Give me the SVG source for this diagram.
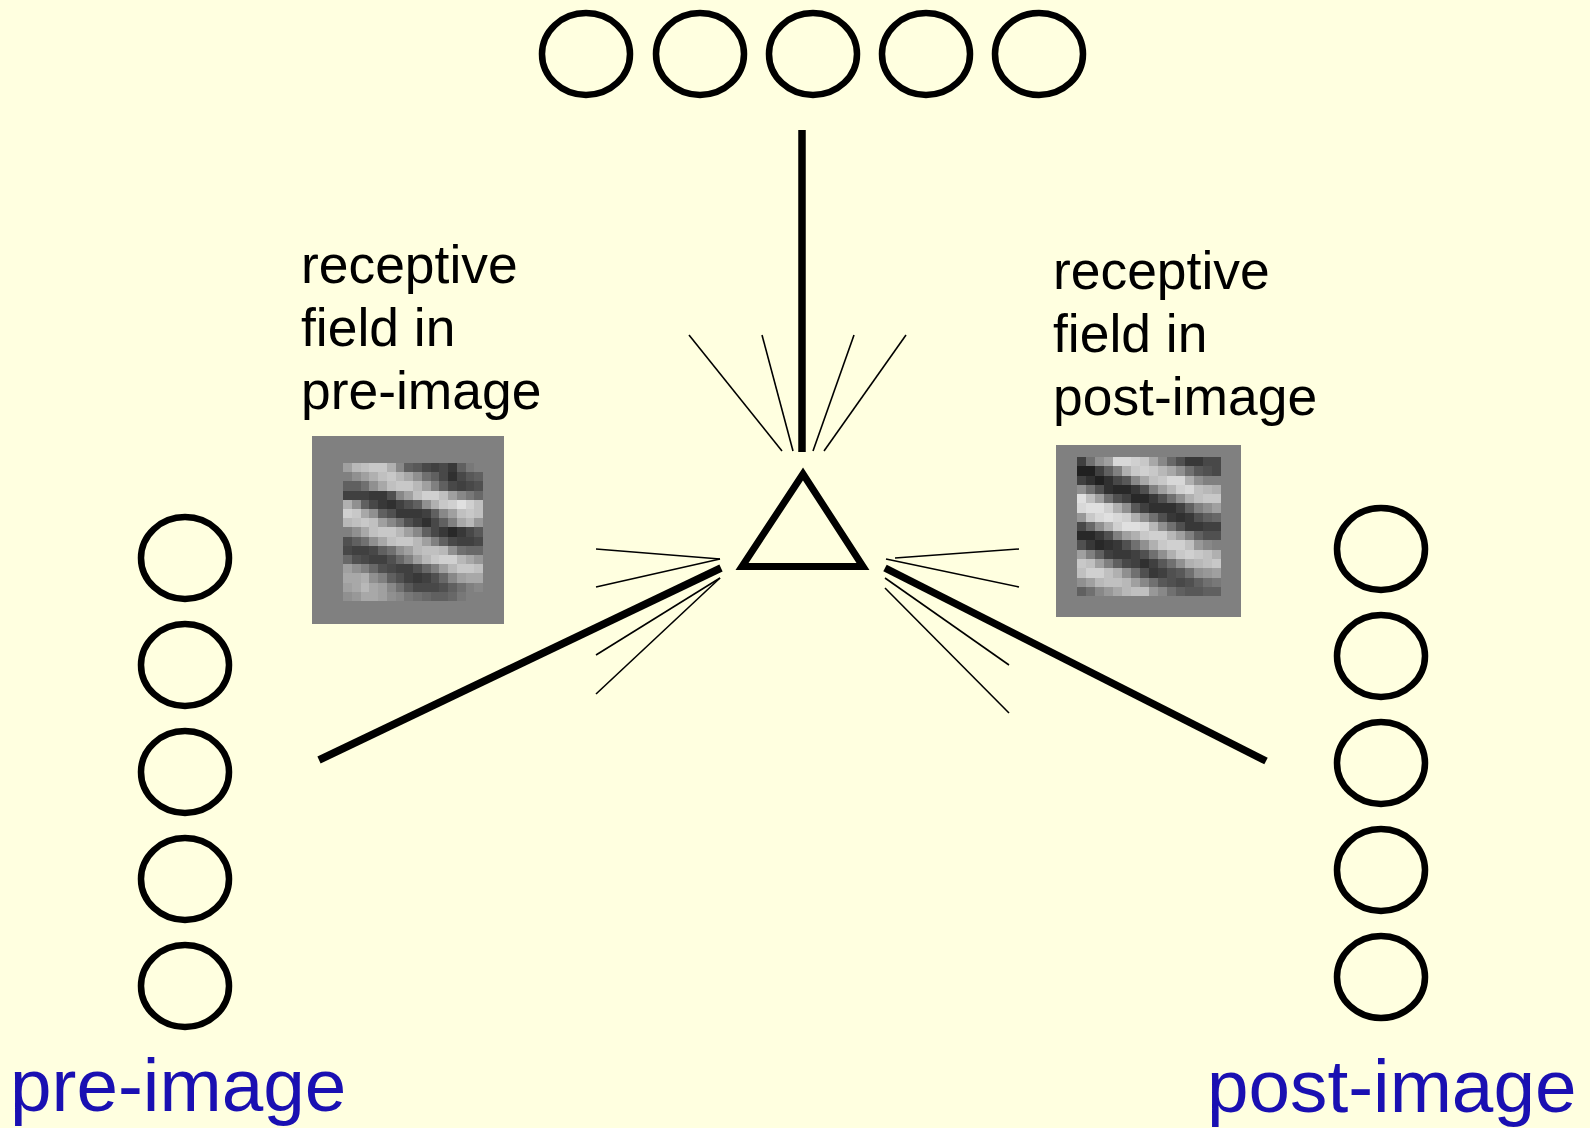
<svg xmlns="http://www.w3.org/2000/svg" width="1590" height="1128" viewBox="0 0 1590 1128">
  <style>
    .unit { fill: none; stroke: #000; stroke-width: 6.5; }
    .thick { stroke: #000; stroke-width: 7.5; fill: none; }
    .thin { stroke: #000; stroke-width: 1.6; fill: none; }
    .lbl { font-family: "Liberation Sans", Arial, sans-serif; font-size: 53.4px; fill: #000; }
    .big { font-family: "Liberation Sans", Arial, sans-serif; font-size: 74.7px; fill: #1a10b2; }
    .px rect { width: 1.04px; height: 1.04px; }
    .px { shape-rendering: crispEdges; }
  </style>

  <rect width="1590" height="1128" fill="#ffffe0"/>

  <!-- connectors -->
  <g id="connectors" stroke-linecap="butt">
    <!-- input from the top row -->
    <line class="thick" x1="802" y1="130" x2="802" y2="452" stroke-width="8"/>
    <line class="thin" x1="689" y1="335" x2="782" y2="451"/>
    <line class="thin" x1="762" y1="335" x2="793" y2="451"/>
    <line class="thin" x1="854" y1="335" x2="813" y2="451"/>
    <line class="thin" x1="906" y1="335" x2="824" y2="451"/>
    <!-- input from the left column -->
    <line class="thick" x1="319" y1="760" x2="721" y2="568"/>
    <line class="thin" x1="596" y1="549" x2="720" y2="559"/>
    <line class="thin" x1="596" y1="587" x2="720" y2="559"/>
    <line class="thin" x1="596" y1="655" x2="720" y2="578"/>
    <line class="thin" x1="596" y1="694" x2="720" y2="578"/>
    <!-- input from the right column -->
    <line class="thick" x1="885" y1="568" x2="1266" y2="761"/>
    <line class="thin" x1="1019" y1="549" x2="895" y2="558"/>
    <line class="thin" x1="1019" y1="587" x2="886" y2="559"/>
    <line class="thin" x1="1009" y1="665" x2="885" y2="578"/>
    <line class="thin" x1="1009" y1="713" x2="885" y2="588"/>
  </g>

  <!-- central neuron -->
  <g id="neuron">
    <polygon points="742,566.5 863,566.5 803,474" fill="none" stroke="#000" stroke-width="7" stroke-linejoin="miter"/>
  </g>

  <!-- top layer -->
  <g id="top-layer">
    <ellipse id="t1" class="unit" cx="586" cy="54" rx="44" ry="41"/>
    <ellipse id="t2" class="unit" cx="700" cy="54" rx="44" ry="41"/>
    <ellipse id="t3" class="unit" cx="813" cy="54" rx="44" ry="41"/>
    <ellipse id="t4" class="unit" cx="926" cy="54" rx="44" ry="41"/>
    <ellipse id="t5" class="unit" cx="1039" cy="54" rx="44" ry="41"/>
  </g>

  <!-- pre-image column -->
  <g id="pre-layer">
    <ellipse id="p1" class="unit" cx="185" cy="558" rx="44" ry="41"/>
    <ellipse id="p2" class="unit" cx="185" cy="665" rx="44" ry="41"/>
    <ellipse id="p3" class="unit" cx="185" cy="772" rx="44" ry="41"/>
    <ellipse id="p4" class="unit" cx="185" cy="879" rx="44" ry="41"/>
    <ellipse id="p5" class="unit" cx="185" cy="986" rx="44" ry="41"/>
  </g>

  <!-- post-image column -->
  <g id="post-layer">
    <ellipse id="q1" class="unit" cx="1381" cy="549" rx="44" ry="41"/>
    <ellipse id="q2" class="unit" cx="1381" cy="656" rx="44" ry="41"/>
    <ellipse id="q3" class="unit" cx="1381" cy="763" rx="44" ry="41"/>
    <ellipse id="q4" class="unit" cx="1381" cy="870" rx="44" ry="41"/>
    <ellipse id="q5" class="unit" cx="1381" cy="977" rx="44" ry="41"/>
  </g>

  <!-- receptive field in pre-image -->
  <g id="rf-pre">
    <text class="lbl" x="301" y="283">receptive</text>
    <text class="lbl" x="301" y="346">field in</text>
    <text class="lbl" x="301" y="409">pre-image</text>
    <rect x="312" y="436" width="192" height="188" fill="#808080"/>
    <g class="px" transform="translate(343,463) scale(8.75,9.2)">
      <g><rect x="0" y="0" fill="#a0a0a0"/><rect x="1" y="0" fill="#b8b8b8"/><rect x="2" y="0" fill="#c0c0c0"/><rect x="3" y="0" fill="#c8c8c8"/><rect x="4" y="0" fill="#c8c8c8"/><rect x="5" y="0" fill="#b0b0b0"/><rect x="6" y="0" fill="#888888"/><rect x="7" y="0" fill="#606060"/><rect x="8" y="0" fill="#585858"/><rect x="9" y="0" fill="#484848"/><rect x="10" y="0" fill="#404040"/><rect x="11" y="0" fill="#484848"/><rect x="12" y="0" fill="#383838"/><rect x="13" y="0" fill="#606060"/><rect x="14" y="0" fill="#787878"/><rect x="15" y="0" fill="#808080"/></g>
      <g><rect x="0" y="1" fill="#808080"/><rect x="1" y="1" fill="#909090"/><rect x="2" y="1" fill="#a0a0a0"/><rect x="3" y="1" fill="#b0b0b0"/><rect x="4" y="1" fill="#c0c0c0"/><rect x="5" y="1" fill="#c8c8c8"/><rect x="6" y="1" fill="#b8b8b8"/><rect x="7" y="1" fill="#a8a8a8"/><rect x="8" y="1" fill="#909090"/><rect x="9" y="1" fill="#707070"/><rect x="10" y="1" fill="#606060"/><rect x="11" y="1" fill="#484848"/><rect x="12" y="1" fill="#303030"/><rect x="13" y="1" fill="#484848"/><rect x="14" y="1" fill="#585858"/><rect x="15" y="1" fill="#606060"/></g>
      <g><rect x="0" y="2" fill="#606060"/><rect x="1" y="2" fill="#606060"/><rect x="2" y="2" fill="#707070"/><rect x="3" y="2" fill="#909090"/><rect x="4" y="2" fill="#a8a8a8"/><rect x="5" y="2" fill="#c0c0c0"/><rect x="6" y="2" fill="#c8c8c8"/><rect x="7" y="2" fill="#c8c8c8"/><rect x="8" y="2" fill="#b8b8b8"/><rect x="9" y="2" fill="#a0a0a0"/><rect x="10" y="2" fill="#808080"/><rect x="11" y="2" fill="#606060"/><rect x="12" y="2" fill="#484848"/><rect x="13" y="2" fill="#404040"/><rect x="14" y="2" fill="#484848"/><rect x="15" y="2" fill="#505050"/></g>
      <g><rect x="0" y="3" fill="#404040"/><rect x="1" y="3" fill="#404040"/><rect x="2" y="3" fill="#404040"/><rect x="3" y="3" fill="#383838"/><rect x="4" y="3" fill="#383838"/><rect x="5" y="3" fill="#505050"/><rect x="6" y="3" fill="#888888"/><rect x="7" y="3" fill="#a0a0a0"/><rect x="8" y="3" fill="#c0c0c0"/><rect x="9" y="3" fill="#d0d0d0"/><rect x="10" y="3" fill="#d0d0d0"/><rect x="11" y="3" fill="#c0c0c0"/><rect x="12" y="3" fill="#a0a0a0"/><rect x="13" y="3" fill="#888888"/><rect x="14" y="3" fill="#787878"/><rect x="15" y="3" fill="#686868"/></g>
      <g><rect x="0" y="4" fill="#b0b0b0"/><rect x="1" y="4" fill="#909090"/><rect x="2" y="4" fill="#606060"/><rect x="3" y="4" fill="#484848"/><rect x="4" y="4" fill="#383838"/><rect x="5" y="4" fill="#303030"/><rect x="6" y="4" fill="#404040"/><rect x="7" y="4" fill="#505050"/><rect x="8" y="4" fill="#606060"/><rect x="9" y="4" fill="#909090"/><rect x="10" y="4" fill="#b0b0b0"/><rect x="11" y="4" fill="#c8c8c8"/><rect x="12" y="4" fill="#d0d0d0"/><rect x="13" y="4" fill="#e0e0e0"/><rect x="14" y="4" fill="#d0d0d0"/><rect x="15" y="4" fill="#c0c0c0"/></g>
      <g><rect x="0" y="5" fill="#d0d0d0"/><rect x="1" y="5" fill="#c8c8c8"/><rect x="2" y="5" fill="#a8a8a8"/><rect x="3" y="5" fill="#909090"/><rect x="4" y="5" fill="#606060"/><rect x="5" y="5" fill="#505050"/><rect x="6" y="5" fill="#383838"/><rect x="7" y="5" fill="#383838"/><rect x="8" y="5" fill="#383838"/><rect x="9" y="5" fill="#404040"/><rect x="10" y="5" fill="#606060"/><rect x="11" y="5" fill="#888888"/><rect x="12" y="5" fill="#a0a0a0"/><rect x="13" y="5" fill="#c0c0c0"/><rect x="14" y="5" fill="#c8c8c8"/><rect x="15" y="5" fill="#c0c0c0"/></g>
      <g><rect x="0" y="6" fill="#b8b8b8"/><rect x="1" y="6" fill="#c0c0c0"/><rect x="2" y="6" fill="#c8c8c8"/><rect x="3" y="6" fill="#c0c0c0"/><rect x="4" y="6" fill="#a0a0a0"/><rect x="5" y="6" fill="#888888"/><rect x="6" y="6" fill="#707070"/><rect x="7" y="6" fill="#505050"/><rect x="8" y="6" fill="#404040"/><rect x="9" y="6" fill="#303030"/><rect x="10" y="6" fill="#484848"/><rect x="11" y="6" fill="#606060"/><rect x="12" y="6" fill="#808080"/><rect x="13" y="6" fill="#a8a8a8"/><rect x="14" y="6" fill="#b8b8b8"/><rect x="15" y="6" fill="#989898"/></g>
      <g><rect x="0" y="7" fill="#808080"/><rect x="1" y="7" fill="#909090"/><rect x="2" y="7" fill="#a8a8a8"/><rect x="3" y="7" fill="#c0c0c0"/><rect x="4" y="7" fill="#c8c8c8"/><rect x="5" y="7" fill="#c8c8c8"/><rect x="6" y="7" fill="#b8b8b8"/><rect x="7" y="7" fill="#a0a0a0"/><rect x="8" y="7" fill="#888888"/><rect x="9" y="7" fill="#606060"/><rect x="10" y="7" fill="#484848"/><rect x="11" y="7" fill="#383838"/><rect x="12" y="7" fill="#282828"/><rect x="13" y="7" fill="#383838"/><rect x="14" y="7" fill="#484848"/><rect x="15" y="7" fill="#585858"/></g>
      <g><rect x="0" y="8" fill="#505050"/><rect x="1" y="8" fill="#606060"/><rect x="2" y="8" fill="#707070"/><rect x="3" y="8" fill="#909090"/><rect x="4" y="8" fill="#a8a8a8"/><rect x="5" y="8" fill="#c0c0c0"/><rect x="6" y="8" fill="#c8c8c8"/><rect x="7" y="8" fill="#c8c8c8"/><rect x="8" y="8" fill="#b8b8b8"/><rect x="9" y="8" fill="#a0a0a0"/><rect x="10" y="8" fill="#808080"/><rect x="11" y="8" fill="#606060"/><rect x="12" y="8" fill="#484848"/><rect x="13" y="8" fill="#404040"/><rect x="14" y="8" fill="#404040"/><rect x="15" y="8" fill="#484848"/></g>
      <g><rect x="0" y="9" fill="#484848"/><rect x="1" y="9" fill="#404040"/><rect x="2" y="9" fill="#404040"/><rect x="3" y="9" fill="#484848"/><rect x="4" y="9" fill="#606060"/><rect x="5" y="9" fill="#707070"/><rect x="6" y="9" fill="#909090"/><rect x="7" y="9" fill="#a0a0a0"/><rect x="8" y="9" fill="#b8b8b8"/><rect x="9" y="9" fill="#c0c0c0"/><rect x="10" y="9" fill="#c0c0c0"/><rect x="11" y="9" fill="#b8b8b8"/><rect x="12" y="9" fill="#909090"/><rect x="13" y="9" fill="#707070"/><rect x="14" y="9" fill="#686868"/><rect x="15" y="9" fill="#686868"/></g>
      <g><rect x="0" y="10" fill="#686868"/><rect x="1" y="10" fill="#505050"/><rect x="2" y="10" fill="#484848"/><rect x="3" y="10" fill="#404040"/><rect x="4" y="10" fill="#404040"/><rect x="5" y="10" fill="#505050"/><rect x="6" y="10" fill="#686868"/><rect x="7" y="10" fill="#808080"/><rect x="8" y="10" fill="#a0a0a0"/><rect x="9" y="10" fill="#b8b8b8"/><rect x="10" y="10" fill="#c8c8c8"/><rect x="11" y="10" fill="#d0d0d0"/><rect x="12" y="10" fill="#d0d0d0"/><rect x="13" y="10" fill="#b8b8b8"/><rect x="14" y="10" fill="#a8a8a8"/><rect x="15" y="10" fill="#989898"/></g>
      <g><rect x="0" y="11" fill="#a0a0a0"/><rect x="1" y="11" fill="#909090"/><rect x="2" y="11" fill="#808080"/><rect x="3" y="11" fill="#686868"/><rect x="4" y="11" fill="#505050"/><rect x="5" y="11" fill="#484848"/><rect x="6" y="11" fill="#404040"/><rect x="7" y="11" fill="#404040"/><rect x="8" y="11" fill="#505050"/><rect x="9" y="11" fill="#686868"/><rect x="10" y="11" fill="#808080"/><rect x="11" y="11" fill="#a0a0a0"/><rect x="12" y="11" fill="#b8b8b8"/><rect x="13" y="11" fill="#c8c8c8"/><rect x="14" y="11" fill="#c8c8c8"/><rect x="15" y="11" fill="#c0c0c0"/></g>
      <g><rect x="0" y="12" fill="#a8a8a8"/><rect x="1" y="12" fill="#a8a8a8"/><rect x="2" y="12" fill="#b0b0b0"/><rect x="3" y="12" fill="#909090"/><rect x="4" y="12" fill="#808080"/><rect x="5" y="12" fill="#606060"/><rect x="6" y="12" fill="#505050"/><rect x="7" y="12" fill="#404040"/><rect x="8" y="12" fill="#383838"/><rect x="9" y="12" fill="#404040"/><rect x="10" y="12" fill="#505050"/><rect x="11" y="12" fill="#686868"/><rect x="12" y="12" fill="#888888"/><rect x="13" y="12" fill="#a0a0a0"/><rect x="14" y="12" fill="#a8a8a8"/><rect x="15" y="12" fill="#a8a8a8"/></g>
      <g><rect x="0" y="13" fill="#a0a0a0"/><rect x="1" y="13" fill="#a8a8a8"/><rect x="2" y="13" fill="#b8b8b8"/><rect x="3" y="13" fill="#a8a8a8"/><rect x="4" y="13" fill="#a0a0a0"/><rect x="5" y="13" fill="#888888"/><rect x="6" y="13" fill="#707070"/><rect x="7" y="13" fill="#585858"/><rect x="8" y="13" fill="#484848"/><rect x="9" y="13" fill="#484848"/><rect x="10" y="13" fill="#484848"/><rect x="11" y="13" fill="#505050"/><rect x="12" y="13" fill="#606060"/><rect x="13" y="13" fill="#707070"/><rect x="14" y="13" fill="#808080"/><rect x="15" y="13" fill="#888888"/></g>
      <g><rect x="0" y="14" fill="#909090"/><rect x="1" y="14" fill="#989898"/><rect x="2" y="14" fill="#a8a8a8"/><rect x="3" y="14" fill="#a8a8a8"/><rect x="4" y="14" fill="#a0a0a0"/><rect x="5" y="14" fill="#909090"/><rect x="6" y="14" fill="#888888"/><rect x="7" y="14" fill="#787878"/><rect x="8" y="14" fill="#707070"/><rect x="9" y="14" fill="#686868"/><rect x="10" y="14" fill="#606060"/><rect x="11" y="14" fill="#606060"/><rect x="12" y="14" fill="#686868"/><rect x="13" y="14" fill="#787878"/><rect x="14" y="14" fill="#808080"/><rect x="15" y="14" fill="#808080"/></g>
    </g>
  </g>

  <!-- receptive field in post-image -->
  <g id="rf-post">
    <text class="lbl" x="1053" y="289">receptive</text>
    <text class="lbl" x="1053" y="352">field in</text>
    <text class="lbl" x="1053" y="415">post-image</text>
    <rect x="1056" y="445" width="185" height="172" fill="#808080"/>
    <g class="px" transform="translate(1077,457) scale(9,9.27)">
      <g><rect x="0" y="0" fill="#404040"/><rect x="1" y="0" fill="#707070"/><rect x="2" y="0" fill="#909090"/><rect x="3" y="0" fill="#a0a0a0"/><rect x="4" y="0" fill="#d8d8d8"/><rect x="5" y="0" fill="#d8d8d8"/><rect x="6" y="0" fill="#d0d0d0"/><rect x="7" y="0" fill="#c8c8c8"/><rect x="8" y="0" fill="#a8a8a8"/><rect x="9" y="0" fill="#888888"/><rect x="10" y="0" fill="#686868"/><rect x="11" y="0" fill="#505050"/><rect x="12" y="0" fill="#383838"/><rect x="13" y="0" fill="#383838"/><rect x="14" y="0" fill="#484848"/><rect x="15" y="0" fill="#484848"/></g>
      <g><rect x="0" y="1" fill="#202020"/><rect x="1" y="1" fill="#202020"/><rect x="2" y="1" fill="#404040"/><rect x="3" y="1" fill="#606060"/><rect x="4" y="1" fill="#808080"/><rect x="5" y="1" fill="#b0b0b0"/><rect x="6" y="1" fill="#c8c8c8"/><rect x="7" y="1" fill="#d0d0d0"/><rect x="8" y="1" fill="#c8c8c8"/><rect x="9" y="1" fill="#b8b8b8"/><rect x="10" y="1" fill="#a8a8a8"/><rect x="11" y="1" fill="#909090"/><rect x="12" y="1" fill="#707070"/><rect x="13" y="1" fill="#585858"/><rect x="14" y="1" fill="#505050"/><rect x="15" y="1" fill="#484848"/></g>
      <g><rect x="0" y="2" fill="#404040"/><rect x="1" y="2" fill="#303030"/><rect x="2" y="2" fill="#202020"/><rect x="3" y="2" fill="#303030"/><rect x="4" y="2" fill="#484848"/><rect x="5" y="2" fill="#585858"/><rect x="6" y="2" fill="#888888"/><rect x="7" y="2" fill="#a8a8a8"/><rect x="8" y="2" fill="#c0c0c0"/><rect x="9" y="2" fill="#c8c8c8"/><rect x="10" y="2" fill="#d8d8d8"/><rect x="11" y="2" fill="#d8d8d8"/><rect x="12" y="2" fill="#b0b0b0"/><rect x="13" y="2" fill="#909090"/><rect x="14" y="2" fill="#808080"/><rect x="15" y="2" fill="#808080"/></g>
      <g><rect x="0" y="3" fill="#909090"/><rect x="1" y="3" fill="#707070"/><rect x="2" y="3" fill="#505050"/><rect x="3" y="3" fill="#303030"/><rect x="4" y="3" fill="#282828"/><rect x="5" y="3" fill="#282828"/><rect x="6" y="3" fill="#383838"/><rect x="7" y="3" fill="#505050"/><rect x="8" y="3" fill="#808080"/><rect x="9" y="3" fill="#a0a0a0"/><rect x="10" y="3" fill="#b8b8b8"/><rect x="11" y="3" fill="#d0d0d0"/><rect x="12" y="3" fill="#d8d8d8"/><rect x="13" y="3" fill="#c0c0c0"/><rect x="14" y="3" fill="#b8b8b8"/><rect x="15" y="3" fill="#b0b0b0"/></g>
      <g><rect x="0" y="4" fill="#e0e0e0"/><rect x="1" y="4" fill="#c0c0c0"/><rect x="2" y="4" fill="#a0a0a0"/><rect x="3" y="4" fill="#707070"/><rect x="4" y="4" fill="#505050"/><rect x="5" y="4" fill="#404040"/><rect x="6" y="4" fill="#282828"/><rect x="7" y="4" fill="#282828"/><rect x="8" y="4" fill="#383838"/><rect x="9" y="4" fill="#505050"/><rect x="10" y="4" fill="#707070"/><rect x="11" y="4" fill="#909090"/><rect x="12" y="4" fill="#b0b0b0"/><rect x="13" y="4" fill="#c0c0c0"/><rect x="14" y="4" fill="#c8c8c8"/><rect x="15" y="4" fill="#c8c8c8"/></g>
      <g><rect x="0" y="5" fill="#d8d8d8"/><rect x="1" y="5" fill="#e0e0e0"/><rect x="2" y="5" fill="#e0e0e0"/><rect x="3" y="5" fill="#d0d0d0"/><rect x="4" y="5" fill="#b0b0b0"/><rect x="5" y="5" fill="#909090"/><rect x="6" y="5" fill="#585858"/><rect x="7" y="5" fill="#404040"/><rect x="8" y="5" fill="#303030"/><rect x="9" y="5" fill="#303030"/><rect x="10" y="5" fill="#303030"/><rect x="11" y="5" fill="#404040"/><rect x="12" y="5" fill="#606060"/><rect x="13" y="5" fill="#808080"/><rect x="14" y="5" fill="#909090"/><rect x="15" y="5" fill="#a0a0a0"/></g>
      <g><rect x="0" y="6" fill="#989898"/><rect x="1" y="6" fill="#c8c8c8"/><rect x="2" y="6" fill="#d8d8d8"/><rect x="3" y="6" fill="#e0e0e0"/><rect x="4" y="6" fill="#d8d8d8"/><rect x="5" y="6" fill="#d0d0d0"/><rect x="6" y="6" fill="#b0b0b0"/><rect x="7" y="6" fill="#909090"/><rect x="8" y="6" fill="#707070"/><rect x="9" y="6" fill="#505050"/><rect x="10" y="6" fill="#383838"/><rect x="11" y="6" fill="#303030"/><rect x="12" y="6" fill="#383838"/><rect x="13" y="6" fill="#505050"/><rect x="14" y="6" fill="#606060"/><rect x="15" y="6" fill="#686868"/></g>
      <g><rect x="0" y="7" fill="#484848"/><rect x="1" y="7" fill="#686868"/><rect x="2" y="7" fill="#909090"/><rect x="3" y="7" fill="#b0b0b0"/><rect x="4" y="7" fill="#d0d0d0"/><rect x="5" y="7" fill="#e0e0e0"/><rect x="6" y="7" fill="#e0e0e0"/><rect x="7" y="7" fill="#d8d8d8"/><rect x="8" y="7" fill="#b8b8b8"/><rect x="9" y="7" fill="#909090"/><rect x="10" y="7" fill="#707070"/><rect x="11" y="7" fill="#505050"/><rect x="12" y="7" fill="#383838"/><rect x="13" y="7" fill="#383838"/><rect x="14" y="7" fill="#404040"/><rect x="15" y="7" fill="#404040"/></g>
      <g><rect x="0" y="8" fill="#282828"/><rect x="1" y="8" fill="#282828"/><rect x="2" y="8" fill="#383838"/><rect x="3" y="8" fill="#505050"/><rect x="4" y="8" fill="#808080"/><rect x="5" y="8" fill="#a0a0a0"/><rect x="6" y="8" fill="#b0b0b0"/><rect x="7" y="8" fill="#c8c8c8"/><rect x="8" y="8" fill="#d0d0d0"/><rect x="9" y="8" fill="#d0d0d0"/><rect x="10" y="8" fill="#b8b8b8"/><rect x="11" y="8" fill="#a0a0a0"/><rect x="12" y="8" fill="#808080"/><rect x="13" y="8" fill="#606060"/><rect x="14" y="8" fill="#505050"/><rect x="15" y="8" fill="#505050"/></g>
      <g><rect x="0" y="9" fill="#505050"/><rect x="1" y="9" fill="#383838"/><rect x="2" y="9" fill="#282828"/><rect x="3" y="9" fill="#303030"/><rect x="4" y="9" fill="#383838"/><rect x="5" y="9" fill="#505050"/><rect x="6" y="9" fill="#707070"/><rect x="7" y="9" fill="#909090"/><rect x="8" y="9" fill="#b0b0b0"/><rect x="9" y="9" fill="#c8c8c8"/><rect x="10" y="9" fill="#d0d0d0"/><rect x="11" y="9" fill="#d0d0d0"/><rect x="12" y="9" fill="#c0c0c0"/><rect x="13" y="9" fill="#989898"/><rect x="14" y="9" fill="#888888"/><rect x="15" y="9" fill="#808080"/></g>
      <g><rect x="0" y="10" fill="#a0a0a0"/><rect x="1" y="10" fill="#808080"/><rect x="2" y="10" fill="#606060"/><rect x="3" y="10" fill="#404040"/><rect x="4" y="10" fill="#383838"/><rect x="5" y="10" fill="#383838"/><rect x="6" y="10" fill="#404040"/><rect x="7" y="10" fill="#505050"/><rect x="8" y="10" fill="#707070"/><rect x="9" y="10" fill="#909090"/><rect x="10" y="10" fill="#b0b0b0"/><rect x="11" y="10" fill="#c8c8c8"/><rect x="12" y="10" fill="#d0d0d0"/><rect x="13" y="10" fill="#c8c8c8"/><rect x="14" y="10" fill="#c0c0c0"/><rect x="15" y="10" fill="#b0b0b0"/></g>
      <g><rect x="0" y="11" fill="#c8c8c8"/><rect x="1" y="11" fill="#c0c0c0"/><rect x="2" y="11" fill="#a0a0a0"/><rect x="3" y="11" fill="#808080"/><rect x="4" y="11" fill="#606060"/><rect x="5" y="11" fill="#484848"/><rect x="6" y="11" fill="#404040"/><rect x="7" y="11" fill="#303030"/><rect x="8" y="11" fill="#404040"/><rect x="9" y="11" fill="#585858"/><rect x="10" y="11" fill="#707070"/><rect x="11" y="11" fill="#909090"/><rect x="12" y="11" fill="#b0b0b0"/><rect x="13" y="11" fill="#b8b8b8"/><rect x="14" y="11" fill="#c0c0c0"/><rect x="15" y="11" fill="#c8c8c8"/></g>
      <g><rect x="0" y="12" fill="#c0c0c0"/><rect x="1" y="12" fill="#d0d0d0"/><rect x="2" y="12" fill="#d0d0d0"/><rect x="3" y="12" fill="#c0c0c0"/><rect x="4" y="12" fill="#b0b0b0"/><rect x="5" y="12" fill="#909090"/><rect x="6" y="12" fill="#707070"/><rect x="7" y="12" fill="#505050"/><rect x="8" y="12" fill="#383838"/><rect x="9" y="12" fill="#404040"/><rect x="10" y="12" fill="#505050"/><rect x="11" y="12" fill="#585858"/><rect x="12" y="12" fill="#707070"/><rect x="13" y="12" fill="#909090"/><rect x="14" y="12" fill="#989898"/><rect x="15" y="12" fill="#a0a0a0"/></g>
      <g><rect x="0" y="13" fill="#909090"/><rect x="1" y="13" fill="#a0a0a0"/><rect x="2" y="13" fill="#b8b8b8"/><rect x="3" y="13" fill="#c0c0c0"/><rect x="4" y="13" fill="#c0c0c0"/><rect x="5" y="13" fill="#b8b8b8"/><rect x="6" y="13" fill="#a0a0a0"/><rect x="7" y="13" fill="#888888"/><rect x="8" y="13" fill="#707070"/><rect x="9" y="13" fill="#585858"/><rect x="10" y="13" fill="#505050"/><rect x="11" y="13" fill="#484848"/><rect x="12" y="13" fill="#505050"/><rect x="13" y="13" fill="#606060"/><rect x="14" y="13" fill="#707070"/><rect x="15" y="13" fill="#787878"/></g>
      <g><rect x="0" y="14" fill="#606060"/><rect x="1" y="14" fill="#707070"/><rect x="2" y="14" fill="#888888"/><rect x="3" y="14" fill="#989898"/><rect x="4" y="14" fill="#a8a8a8"/><rect x="5" y="14" fill="#b8b8b8"/><rect x="6" y="14" fill="#c0c0c0"/><rect x="7" y="14" fill="#c0c0c0"/><rect x="8" y="14" fill="#989898"/><rect x="9" y="14" fill="#888888"/><rect x="10" y="14" fill="#707070"/><rect x="11" y="14" fill="#606060"/><rect x="12" y="14" fill="#585858"/><rect x="13" y="14" fill="#585858"/><rect x="14" y="14" fill="#606060"/><rect x="15" y="14" fill="#606060"/></g>
    </g>
  </g>

  <!-- layer captions -->
  <g id="captions">
    <text class="big" x="10" y="1111">pre-image</text>
    <text class="big" x="1207" y="1112">post-image</text>
  </g>
</svg>
